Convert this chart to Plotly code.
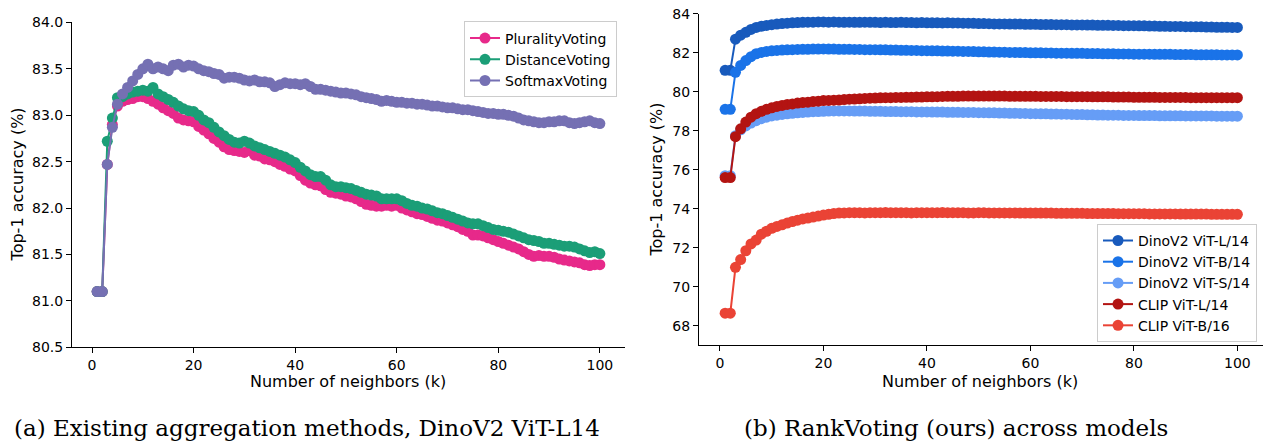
import plotly.graph_objects as go

W, H = 1264, 443

k = list(range(1, 101))

plurality = [
    81.10, 81.10, 82.47, 82.90, 83.10, 83.15, 83.17, 83.18, 83.20, 83.20,
    83.18, 83.15, 83.12, 83.08, 83.05, 83.02, 82.97, 82.95, 82.94, 82.93,
    82.88, 82.84, 82.80, 82.75, 82.71, 82.66, 82.63, 82.62, 82.61, 82.60,
    82.62, 82.57, 82.56, 82.53, 82.52, 82.50, 82.47, 82.45, 82.42, 82.40,
    82.35, 82.30, 82.27, 82.25, 82.24, 82.20, 82.17, 82.16, 82.15, 82.13,
    82.12, 82.10, 82.07, 82.04, 82.03, 82.02, 82.02, 82.03, 82.02, 82.03,
    82.00, 81.98, 81.96, 81.94, 81.93, 81.91, 81.89, 81.87, 81.86, 81.84,
    81.82, 81.80, 81.77, 81.75, 81.71, 81.71, 81.70, 81.68, 81.66, 81.64,
    81.62, 81.60, 81.58, 81.56, 81.53, 81.50, 81.48, 81.49, 81.48, 81.48,
    81.47, 81.45, 81.44, 81.43, 81.42, 81.41, 81.39, 81.38, 81.39, 81.39,
]

distance = [
    81.10, 81.10, 82.72, 82.97, 83.19, 83.20, 83.23, 83.25, 83.26, 83.27,
    83.26, 83.30, 83.23, 83.20, 83.17, 83.14, 83.10, 83.07, 83.05, 83.04,
    83.00, 82.95, 82.92, 82.87, 82.82, 82.78, 82.74, 82.71, 82.70, 82.72,
    82.70, 82.67, 82.65, 82.63, 82.61, 82.59, 82.57, 82.55, 82.52, 82.49,
    82.44, 82.40, 82.36, 82.34, 82.34, 82.30, 82.25, 82.23, 82.23, 82.22,
    82.21, 82.19, 82.17, 82.15, 82.14, 82.13, 82.10, 82.10, 82.10, 82.10,
    82.08, 82.05, 82.03, 82.02, 82.00, 81.99, 81.97, 81.95, 81.94, 81.92,
    81.90, 81.88, 81.86, 81.84, 81.83, 81.83, 81.81, 81.79, 81.77, 81.76,
    81.75, 81.74, 81.72, 81.70, 81.68, 81.66, 81.65, 81.64, 81.62, 81.62,
    81.61, 81.60, 81.59, 81.59, 81.58, 81.56, 81.54, 81.52, 81.53, 81.51,
]

softmax = [
    81.10, 81.10, 82.47, 82.87, 83.12, 83.23, 83.30, 83.37, 83.44, 83.50,
    83.55, 83.50, 83.52, 83.50, 83.48, 83.54, 83.55, 83.52, 83.54, 83.53,
    83.50, 83.48, 83.47, 83.45, 83.44, 83.40, 83.41, 83.41, 83.40, 83.38,
    83.37, 83.38, 83.36, 83.36, 83.35, 83.31, 83.33, 83.35, 83.34, 83.34,
    83.33, 83.34, 83.31, 83.28, 83.28, 83.27, 83.26, 83.25, 83.24, 83.24,
    83.23, 83.22, 83.20, 83.19, 83.18, 83.17, 83.15, 83.16, 83.15, 83.14,
    83.14, 83.13, 83.13, 83.12, 83.12, 83.11, 83.10, 83.10, 83.09, 83.08,
    83.08, 83.07, 83.06, 83.06, 83.05, 83.04, 83.03, 83.02, 83.02, 83.01,
    83.01, 83.00, 82.99, 82.97, 82.95, 82.94, 82.93, 82.92, 82.92, 82.93,
    82.93, 82.94, 82.94, 82.92, 82.91, 82.92, 82.93, 82.94, 82.92, 82.91,
]

dino_l = [
    81.10, 81.10, 82.70, 82.90, 83.05, 83.20, 83.30, 83.36, 83.40, 83.44,
    83.47, 83.50, 83.52, 83.54, 83.55, 83.56, 83.57, 83.57, 83.58, 83.58,
    83.57, 83.58, 83.57, 83.56, 83.57, 83.56, 83.56, 83.57, 83.56, 83.56,
    83.55, 83.56, 83.55, 83.55, 83.56, 83.55, 83.55, 83.54, 83.55, 83.54,
    83.54, 83.54, 83.53, 83.54, 83.53, 83.53, 83.52, 83.52, 83.51, 83.50,
    83.50, 83.49, 83.48, 83.48, 83.48, 83.47, 83.47, 83.47, 83.46, 83.46,
    83.46, 83.45, 83.45, 83.45, 83.44, 83.44, 83.44, 83.43, 83.43, 83.43,
    83.42, 83.42, 83.41, 83.41, 83.41, 83.40, 83.40, 83.39, 83.39, 83.39,
    83.38, 83.38, 83.37, 83.37, 83.36, 83.36, 83.35, 83.35, 83.35, 83.34,
    83.34, 83.33, 83.33, 83.32, 83.32, 83.31, 83.31, 83.31, 83.30, 83.30,
]

dino_b = [
    79.10, 79.10, 81.00, 81.35, 81.60, 81.80, 81.95, 82.02, 82.07, 82.10,
    82.12, 82.14, 82.15, 82.16, 82.17, 82.18, 82.18, 82.19, 82.19, 82.20,
    82.19, 82.19, 82.18, 82.18, 82.18, 82.17, 82.17, 82.16, 82.16, 82.16,
    82.15, 82.15, 82.14, 82.14, 82.13, 82.13, 82.12, 82.12, 82.11, 82.11,
    82.10, 82.10, 82.09, 82.09, 82.08, 82.08, 82.07, 82.07, 82.06, 82.05,
    82.05, 82.04, 82.04, 82.03, 82.03, 82.02, 82.02, 82.01, 82.01, 82.00,
    82.00, 82.00, 81.99, 81.99, 81.98, 81.98, 81.98, 81.97, 81.97, 81.97,
    81.96, 81.96, 81.96, 81.95, 81.95, 81.95, 81.94, 81.94, 81.94, 81.93,
    81.93, 81.93, 81.93, 81.92, 81.92, 81.92, 81.92, 81.91, 81.91, 81.91,
    81.91, 81.90, 81.90, 81.90, 81.90, 81.90, 81.89, 81.89, 81.89, 81.89,
]

dino_s = [
    75.70, 75.70, 77.75, 78.05, 78.25, 78.40, 78.52, 78.62, 78.70, 78.76,
    78.80, 78.84, 78.87, 78.90, 78.92, 78.94, 78.96, 78.98, 78.99, 79.00,
    79.01, 79.02, 79.02, 79.02, 79.02, 79.01, 79.01, 79.01, 79.00, 79.00,
    79.00, 78.99, 78.99, 78.99, 78.98, 78.98, 78.98, 78.97, 78.97, 78.97,
    78.96, 78.96, 78.96, 78.95, 78.95, 78.95, 78.94, 78.94, 78.94, 78.93,
    78.93, 78.92, 78.92, 78.91, 78.91, 78.90, 78.90, 78.89, 78.89, 78.88,
    78.88, 78.87, 78.87, 78.86, 78.86, 78.85, 78.85, 78.84, 78.83, 78.83,
    78.82, 78.82, 78.81, 78.81, 78.80, 78.80, 78.80, 78.79, 78.79, 78.79,
    78.78, 78.78, 78.78, 78.78, 78.77, 78.77, 78.77, 78.77, 78.77, 78.76,
    78.76, 78.76, 78.76, 78.76, 78.76, 78.75, 78.75, 78.75, 78.75, 78.75,
]

clip_l = [
    75.60, 75.60, 77.70, 78.10, 78.45, 78.70, 78.88, 79.00, 79.10, 79.18,
    79.25, 79.30, 79.35, 79.38, 79.42, 79.45, 79.47, 79.50, 79.52, 79.55,
    79.56, 79.57, 79.58, 79.60, 79.62, 79.63, 79.64, 79.66, 79.67, 79.68,
    79.69, 79.70, 79.70, 79.71, 79.71, 79.72, 79.72, 79.73, 79.73, 79.74,
    79.74, 79.75, 79.76, 79.77, 79.77, 79.77, 79.78, 79.78, 79.78, 79.78,
    79.78, 79.78, 79.78, 79.78, 79.78, 79.77, 79.77, 79.77, 79.77, 79.77,
    79.77, 79.76, 79.76, 79.76, 79.76, 79.76, 79.75, 79.75, 79.75, 79.75,
    79.75, 79.74, 79.74, 79.74, 79.74, 79.73, 79.73, 79.73, 79.73, 79.72,
    79.72, 79.72, 79.72, 79.72, 79.71, 79.71, 79.71, 79.71, 79.71, 79.71,
    79.70, 79.70, 79.70, 79.70, 79.70, 79.70, 79.70, 79.70, 79.70, 79.70,
]

clip_b = [
    68.65, 68.65, 71.00, 71.40, 71.85, 72.20, 72.40, 72.70, 72.85, 73.00,
    73.10, 73.18, 73.27, 73.35, 73.42, 73.48, 73.53, 73.58, 73.63, 73.68,
    73.72, 73.76, 73.78, 73.79, 73.80, 73.80, 73.80, 73.79, 73.80, 73.80,
    73.80, 73.81, 73.80, 73.80, 73.80, 73.80, 73.79, 73.80, 73.80, 73.80,
    73.80, 73.80, 73.81, 73.80, 73.80, 73.80, 73.80, 73.79, 73.79, 73.80,
    73.80, 73.79, 73.79, 73.79, 73.79, 73.79, 73.79, 73.78, 73.78, 73.78,
    73.78, 73.78, 73.78, 73.78, 73.77, 73.77, 73.77, 73.77, 73.77, 73.77,
    73.76, 73.76, 73.76, 73.76, 73.76, 73.76, 73.75, 73.75, 73.75, 73.75,
    73.75, 73.75, 73.74, 73.74, 73.74, 73.74, 73.74, 73.74, 73.73, 73.73,
    73.73, 73.73, 73.73, 73.73, 73.72, 73.72, 73.72, 73.72, 73.72, 73.72,
]

left_names = ["PluralityVoting", "DistanceVoting", "SoftmaxVoting"]
left_series = [plurality, distance, softmax]
left_colors = ["#e7298a", "#1b9e77", "#7570b3"]

right_names = ["DinoV2 ViT-L/14", "DinoV2 ViT-B/14", "DinoV2 ViT-S/14",
               "CLIP ViT-L/14", "CLIP ViT-B/16"]
right_series = [dino_l, dino_b, dino_s, clip_l, clip_b]
right_colors = ["#185abc", "#1a73e8", "#669df6", "#b31412", "#ea4335"]

left_yticks = [80.5, 81.0, 81.5, 82.0, 82.5, 83.0, 83.5, 84.0]
right_yticks = [68, 70, 72, 74, 76, 78, 80, 82, 84]
xticks = [0, 20, 40, 60, 80, 100]

FONT = "DejaVu Sans"

fig = go.Figure()
for name, ys, c in zip(left_names, left_series, left_colors):
    fig.add_trace(go.Scatter(
        x=k, y=ys, name=name, mode="lines+markers",
        line=dict(color=c, width=2), marker=dict(color=c, size=11),
        xaxis="x", yaxis="y", legend="legend",
    ))
for name, ys, c in zip(right_names, right_series, right_colors):
    fig.add_trace(go.Scatter(
        x=k, y=ys, name=name, mode="lines+markers",
        line=dict(color=c, width=2), marker=dict(color=c, size=11),
        xaxis="x2", yaxis="y2", legend="legend2",
    ))

axis_common = dict(
    showline=True, linecolor="black", linewidth=1, mirror=False,
    ticks="outside", ticklen=5, tickwidth=1, tickcolor="black",
    showgrid=False, zeroline=False,
    tickfont=dict(family=FONT, size=14, color="black"),
)

def px_x(p):
    return p / W

def px_y(p):
    return (H - p) / H

fig.update_layout(
    width=W, height=H,
    margin=dict(l=0, r=0, t=0, b=0),
    paper_bgcolor="white", plot_bgcolor="white",
    font=dict(family=FONT, size=14, color="black"),
    xaxis=dict(domain=[px_x(72), px_x(625)], range=[-3.95, 104.95],
               tickvals=xticks, anchor="y", **axis_common),
    yaxis=dict(domain=[px_y(352), px_y(15)], range=[80.5, 84.0],
               tickvals=left_yticks, tickformat=".1f", anchor="x", **axis_common),
    xaxis2=dict(domain=[px_x(699), px_x(1263)], range=[-4.05, 104.95],
                tickvals=xticks, anchor="y2", **axis_common),
    yaxis2=dict(domain=[px_y(350), px_y(6)], range=[67, 84],
                tickvals=right_yticks, anchor="x2", **axis_common),
    legend=dict(x=px_x(617), y=px_y(14), xanchor="right", yanchor="top",
                bgcolor="rgba(255,255,255,0.8)", bordercolor="#cccccc",
                borderwidth=1, font=dict(family=FONT, size=14)),
    legend2=dict(x=px_x(1257), y=px_y(224), xanchor="right", yanchor="top",
                 bgcolor="rgba(255,255,255,0.8)", bordercolor="#cccccc",
                 borderwidth=1, font=dict(family=FONT, size=14)),
    showlegend=True,
)

ann = []
ann.append(dict(text="Top-1 accuracy (%)", x=px_x(17), y=px_y(183), textangle=-90,
                font=dict(family=FONT, size=16)))
ann.append(dict(text="Top-1 accuracy (%)", x=px_x(657), y=px_y(178), textangle=-90,
                font=dict(family=FONT, size=16)))
ann.append(dict(text="Number of neighbors (k)", x=px_x(348), y=px_y(388),
                font=dict(family=FONT, size=16)))
ann.append(dict(text="Number of neighbors (k)", x=px_x(980), y=px_y(388),
                font=dict(family=FONT, size=16)))
ann.append(dict(text="(a) Existing aggregation methods, DinoV2 ViT-L14", x=px_x(307),
                y=px_y(436), font=dict(family="DejaVu Serif", size=23)))
ann.append(dict(text="(b) RankVoting (ours) across models", x=px_x(956),
                y=px_y(436), font=dict(family="DejaVu Serif", size=23)))
for a in ann:
    a.update(xref="paper", yref="paper", showarrow=False,
             xanchor="center", yanchor="middle")
fig.update_layout(annotations=ann)

fig.write_html("out.html")
